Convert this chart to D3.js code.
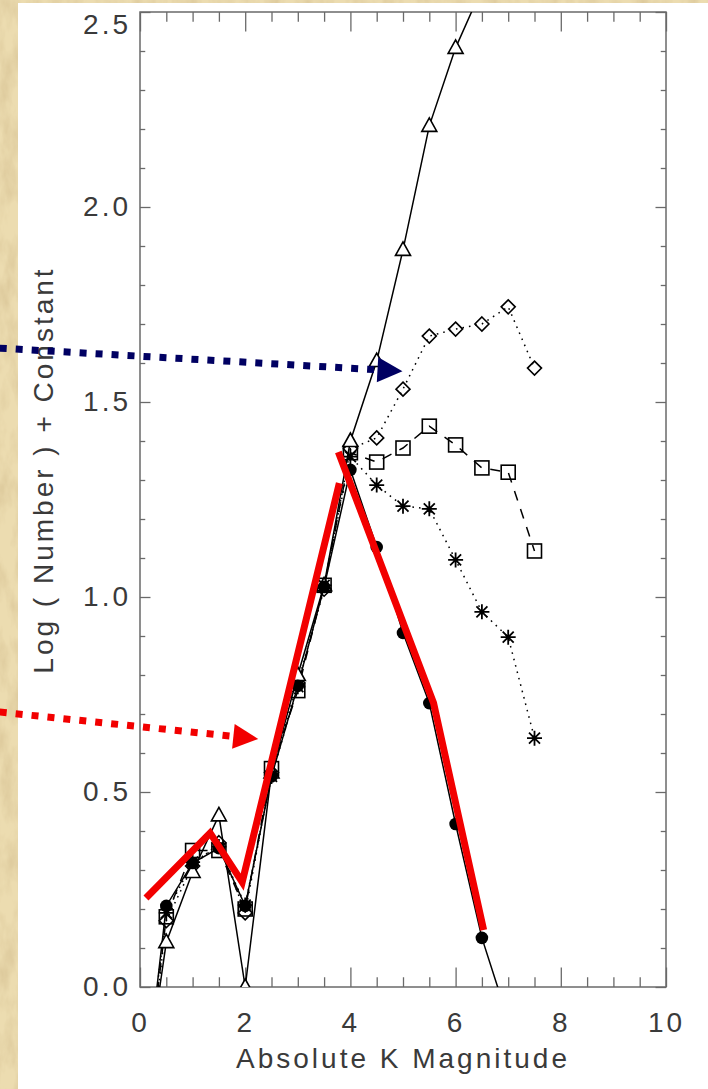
<!DOCTYPE html>
<html>
<head>
<meta charset="utf-8">
<script src="https://cdn.jsdelivr.net/npm/d3@7"></script>
<style>
  html, body { margin: 0; padding: 0; background: #fff; }
  svg { display: block; }
  text { font-family: "Liberation Sans", Arial, sans-serif; fill: #3a3a3a; }
</style>
</head>
<body>
<svg id="chart" width="708" height="1089"></svg>
<script>
// Absolute K magnitude bins
const magnitude = [0, 0.5, 1, 1.5, 2, 2.5, 3, 3.5, 4, 4.5, 5, 5.5, 6, 6.5, 7, 7.5];

// Log(Number) + constant for each model (null = not computed at that bin)
const triangles = [-0.35, 0.115, 0.295, 0.44, 0.0, 0.55, 0.80, 1.03, 1.40, 1.605, 1.89, 2.208, 2.408, 2.56, null, null];
const circles   = [-0.38, 0.208, 0.318, 0.356, 0.208, 0.54, 0.772, 1.026, 1.326, 1.128, 0.908, 0.728, 0.418, 0.126, -0.084, null];
const diamonds  = [-0.42, 0.17, 0.31, 0.37, 0.19, 0.55, 0.78, 1.02, 1.38, 1.408, 1.533, 1.669, 1.687, 1.70, 1.744, 1.587];
const squares   = [-0.40, 0.18, 0.35, 0.35, 0.20, 0.56, 0.76, 1.03, 1.37, 1.346, 1.382, 1.438, 1.39, 1.331, 1.32, 1.118];
const asterisks = [-0.36, 0.19, 0.32, 0.36, 0.21, 0.54, 0.77, 1.03, 1.36, 1.287, 1.233, 1.226, 1.095, 0.962, 0.897, 0.638];

// Tick labels
const xTickLabels = ["0", "2", "4", "6", "8", "10"];
const yTickLabels = ["0.0", "0.5", "1.0", "1.5", "2.0", "2.5"];

// Hand-drawn red trend lines (magnitude, log N)
const redRise = [[0.114, 0.228], [1.333, 0.395], [1.943, 0.269], [3.79, 1.292]];
const redFall = [[3.771, 1.372], [5.581, 0.728], [6.533, 0.146]];

// Pointer arrows (start, tip) in the same units
const blueArrow = [[-2.667, 1.638], [4.99, 1.579]];
const redArrow  = [[-2.667, 0.705], [2.248, 0.636]];

const svg = d3.select("#chart");
const W = 708, H = 1089;
const plot = { left: 140, right: 666, top: 12, bottom: 987 };

const x = d3.scaleLinear().domain([0, 10]).range([plot.left, plot.right]);
const y = d3.scaleLinear().domain([0, 2.5]).range([plot.bottom, plot.top]);

// Paper texture strips along the left and top edges
const defs = svg.append("defs");
const f = defs.append("filter").attr("id", "paper")
  .attr("x", 0).attr("y", 0).attr("width", 1).attr("height", 1);
f.append("feTurbulence").attr("type", "fractalNoise")
  .attr("baseFrequency", "0.06 0.025").attr("numOctaves", 4).attr("seed", 7);
f.append("feColorMatrix").attr("type", "matrix")
  .attr("values", "0 0 0 0 0.66  0 0 0 0 0.52  0 0 0 0 0.28  1.4 0 0 0 -0.55");
f.append("feComposite").attr("in2", "SourceGraphic").attr("operator", "in");

[[0, 0, 18, H], [0, 0, W, 3]].forEach(([rx, ry, rw, rh]) => {
  svg.append("rect").attr("x", rx).attr("y", ry).attr("width", rw).attr("height", rh)
    .attr("fill", "#ecdcb0");
  svg.append("rect").attr("x", rx).attr("y", ry).attr("width", rw).attr("height", rh)
    .attr("fill", "#fff").attr("filter", "url(#paper)");
});

defs.append("clipPath").attr("id", "plotClip").append("rect")
  .attr("x", plot.left).attr("y", plot.top)
  .attr("width", plot.right - plot.left).attr("height", plot.bottom - plot.top);

// Axes: ticks point inward, labels only on bottom and left
const axisColor = "#6a6a6a";
const xMajor = d3.range(0, 10.01, 2);
const xMinor = d3.range(0, 10.01, 0.5).filter(v => Math.abs(v % 2) > 1e-6);
const yMajor = d3.range(0, 2.501, 0.5);
const yMinor = d3.range(0, 2.501, 0.1).filter(v => Math.abs(v / 0.5 - Math.round(v / 0.5)) > 1e-6);

const xLen = 19.5, yLen = 10.5;
const labelStyle = g => g.selectAll("text")
  .style("font-size", "28px").style("letter-spacing", "3px")
  .attr("fill", "#3a3a3a").style("font-family", '"Liberation Sans", Arial, sans-serif');
const tickStyle = g => { g.select(".domain").remove(); g.selectAll("line").attr("stroke", axisColor).attr("stroke-width", 1.3); };

svg.append("g").attr("transform", `translate(0,${plot.bottom})`)
  .call(d3.axisBottom(x).tickValues(xMajor).tickSize(-xLen).tickPadding(25)
    .tickFormat((d, i) => xTickLabels[i]))
  .call(tickStyle).call(labelStyle);
svg.append("g").attr("transform", `translate(0,${plot.bottom})`)
  .call(d3.axisBottom(x).tickValues(xMinor).tickSize(-xLen / 2).tickFormat(""))
  .call(tickStyle);
svg.append("g").attr("transform", `translate(0,${plot.top})`)
  .call(d3.axisTop(x).tickValues(xMajor).tickSize(-xLen).tickFormat(""))
  .call(tickStyle);
svg.append("g").attr("transform", `translate(0,${plot.top})`)
  .call(d3.axisTop(x).tickValues(xMinor).tickSize(-xLen / 2).tickFormat(""))
  .call(tickStyle);

const yAxisG = svg.append("g").attr("transform", `translate(${plot.left},0)`)
  .call(d3.axisLeft(y).tickValues(yMajor).tickSize(-yLen).tickPadding(9)
    .tickFormat((d, i) => yTickLabels[i]))
  .call(tickStyle).call(labelStyle);
// keep the topmost label inside the page: hang it just below the frame's top edge
yAxisG.selectAll(".tick").filter(d => d === 2.5).select("text").attr("dy", "0.76em");

svg.append("g").attr("transform", `translate(${plot.left},0)`)
  .call(d3.axisLeft(y).tickValues(yMinor).tickSize(-yLen / 2).tickFormat(""))
  .call(tickStyle);
svg.append("g").attr("transform", `translate(${plot.right},0)`)
  .call(d3.axisRight(y).tickValues(yMajor).tickSize(-yLen).tickFormat(""))
  .call(tickStyle);
svg.append("g").attr("transform", `translate(${plot.right},0)`)
  .call(d3.axisRight(y).tickValues(yMinor).tickSize(-yLen / 2).tickFormat(""))
  .call(tickStyle);

svg.append("rect")
  .attr("x", plot.left).attr("y", plot.top)
  .attr("width", plot.right - plot.left).attr("height", plot.bottom - plot.top)
  .attr("fill", "none").attr("stroke", axisColor).attr("stroke-width", 1.5);

// Axis titles
svg.append("text").attr("x", x(5)).attr("y", 1068)
  .attr("text-anchor", "middle").style("font-size", "28px").style("letter-spacing", "3px")
  .text("Absolute K Magnitude");
svg.append("text").attr("transform", `translate(53,${470}) rotate(-90)`)
  .attr("text-anchor", "middle").style("font-size", "28px").style("letter-spacing", "3px")
  .text("Log ( Number ) + Constant");

// Model curves
const sw = 1.6;
const symbols = {
  triangle: g => g.append("path").attr("d", "M0,-8L7.5,5.5L-7.5,5.5Z").attr("fill", "#fff").attr("stroke", "#000").attr("stroke-width", sw),
  circle: g => g.append("circle").attr("r", 6.3).attr("fill", "#000"),
  diamond: g => g.append("path").attr("d", "M0,-7L7,0L0,7L-7,0Z").attr("fill", "none").attr("stroke", "#000").attr("stroke-width", sw),
  square: g => g.append("rect").attr("x", -7).attr("y", -7).attr("width", 14).attr("height", 14).attr("fill", "none").attr("stroke", "#000").attr("stroke-width", sw),
  asterisk: g => g.append("path").attr("d", "M-7.5,0H7.5M0,-7.5V7.5M-5.5,-5.5L5.5,5.5M-5.5,5.5L5.5,-5.5").attr("stroke", "#000").attr("stroke-width", 1.8)
};

const series = [
  { values: diamonds,  symbol: "diamond",  dash: "1.6,5" },
  { values: asterisks, symbol: "asterisk", dash: "1.6,5" },
  { values: squares,   symbol: "square",   dash: "10,9" },
  { values: triangles, symbol: "triangle", dash: null },
  { values: circles,   symbol: "circle",   dash: null }
];

const dataLayer = svg.append("g").attr("clip-path", "url(#plotClip)");
const line = d3.line().defined(d => d[1] !== null).x(d => x(d[0])).y(d => y(d[1]));

series.forEach(s => {
  const pts = magnitude.map((m, i) => [m, s.values[i]]).filter(d => d[1] !== null);
  dataLayer.append("path").datum(pts).attr("d", line)
    .attr("fill", "none").attr("stroke", "#000").attr("stroke-width", 1.5)
    .attr("stroke-dasharray", s.dash);
});
series.forEach(s => {
  const pts = magnitude.map((m, i) => [m, s.values[i]]).filter(d => d[1] !== null);
  dataLayer.selectAll(null).data(pts).enter().append("g")
    .attr("transform", d => `translate(${x(d[0])},${y(d[1])})`)
    .each(function () { symbols[s.symbol](d3.select(this)); });
});

// Red trend lines
const trend = d3.line().x(d => x(d[0])).y(d => y(d[1]));
[redRise, redFall].forEach(pts => {
  svg.append("path").datum(pts).attr("d", trend)
    .attr("fill", "none").attr("stroke", "#f20000").attr("stroke-width", 7)
    .attr("stroke-linejoin", "miter");
});

// Dotted pointer arrows
function arrow(pts, color) {
  const [x0, y0] = [x(pts[0][0]), y(pts[0][1])];
  const [x1, y1] = [x(pts[1][0]), y(pts[1][1])];
  const ang = Math.atan2(y1 - y0, x1 - x0);
  const headLen = 25, headHalf = 12.5;
  const bx = x1 - headLen * Math.cos(ang), by = y1 - headLen * Math.sin(ang);
  svg.append("line").attr("x1", x0).attr("y1", y0).attr("x2", bx).attr("y2", by)
    .attr("stroke", color).attr("stroke-width", 7).attr("stroke-dasharray", "7,9");
  const nx = -Math.sin(ang), ny = Math.cos(ang);
  svg.append("path")
    .attr("d", `M${x1},${y1}L${bx + nx * headHalf},${by + ny * headHalf}L${bx - nx * headHalf},${by - ny * headHalf}Z`)
    .attr("fill", color);
}
arrow(blueArrow, "#000062");
arrow(redArrow, "#f20000");
</script>
</body>
</html>
